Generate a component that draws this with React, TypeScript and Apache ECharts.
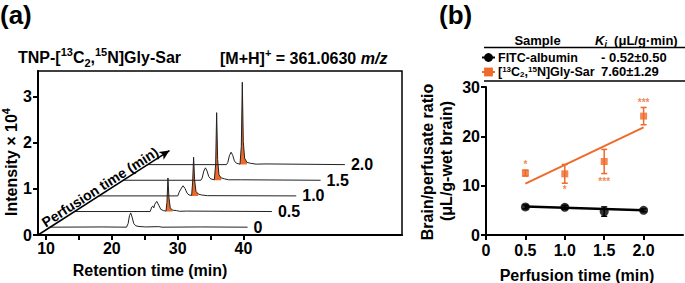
import React, { useEffect, useRef } from 'react';
import * as echarts from 'echarts';

const FONT = "'Liberation Sans', Arial, sans-serif";
const ORANGE = '#EE6A2B';
const BLACK = '#000';

// ---------- Panel (a): stacked chromatograms ----------
const PERFUSION_LABELS = ['0', '0.5', '1.0', '1.5', '2.0'];
const RT_TICKS = [10, 15, 20, 25, 30, 35, 40];
const RT_TICK_LABELS = [10, 20, 30, 40];
const INTENSITY_TICKS = [0, 1, 2, 3];

// [retention time (min), intensity x10^4]
const TRACE_0 = [[10, 0], [18, 0.005], [21.6, 0], [21.85, 0.08], [22.05, 0.25], [22.24, 0.31], [22.45, 0.22], [22.7, 0.08], [23.0, 0.03], [23.5, 0.015], [24.5, 0.005], [26.5, 0.012], [27, 0], [33, 0.005], [40, 0]];
const TRACE_05 = [[10, 0], [21.5, 0], [21.75, 0.1], [21.9, 0.12], [22.05, 0.08], [22.2, 0.16], [22.5, 0.22], [22.8, 0.14], [23.1, 0.05], [23.5, 0.02], [23.9, 0.01], [24.05, 0.2], [24.2, 0.73], [24.35, 0.3], [24.55, 0.08], [24.9, 0.03], [25.5, 0.02], [26, 0.005], [27, 0.01], [40, 0]];
const TRACE_10 = [[10, 0], [22.0, 0], [22.2, 0.08], [22.4, 0.13], [22.55, 0.17], [22.8, 0.22], [23.1, 0.16], [23.4, 0.06], [23.7, 0.02], [24.1, 0.01], [24.25, 0.3], [24.4, 0.84], [24.55, 0.35], [24.75, 0.1], [25.1, 0.04], [25.6, 0.02], [26.5, 0.005], [40, 0]];
const TRACE_15 = [[10, 0], [21.8, 0], [22.0, 0.05], [22.25, 0.2], [22.5, 0.27], [22.75, 0.2], [23.0, 0.08], [23.3, 0.03], [23.85, 0.01], [24.05, 0.35], [24.2, 1.47], [24.35, 0.45], [24.55, 0.12], [24.9, 0.05], [25.4, 0.03], [26, 0.01], [28, 0.01], [40, 0]];
const TRACE_20 = [[10, 0], [22.0, 0], [22.2, 0.05], [22.45, 0.2], [22.7, 0.27], [22.95, 0.2], [23.2, 0.08], [23.5, 0.03], [24.05, 0.01], [24.25, 0.4], [24.4, 1.79], [24.55, 0.5], [24.75, 0.14], [25.1, 0.05], [25.6, 0.03], [26.5, 0.01], [28, 0.015], [40, 0]];
const TRACES = [TRACE_0, TRACE_05, TRACE_10, TRACE_15, TRACE_20];
// retention-time window of the labelled (orange) peak in each trace
const LABEL_PEAK_WINDOWS: (number[] | null)[] = [null, [23.9, 24.9], [24.1, 25.1], [23.85, 24.9], [24.05, 25.1]];

// ---------- Panel (b): brain / perfusate ratio ----------
const PERF_TIMES = [0.5, 1.0, 1.5, 2.0];
const FITC_MEAN = [5.7, 5.6, 4.75, 5.0];
const FITC_SD = [0.4, 0.4, 0.95, 0.3];
const GLYSAR_MEAN = [12.55, 12.4, 14.9, 24.1];
const GLYSAR_SD = [0.6, 1.9, 2.45, 1.75];
const FIT_TIMES = [0.5, 2.0];
const FITC_FIT = [5.8, 5.02];
const GLYSAR_FIT = [10.4, 21.8];
const SIG_LABELS = ['*', '*', '***', '***'];
const SIG_POS = [14.2, 9.2, 10.9, 26.8];
const KI_MEAN = [-0.52, 7.6];
const KI_SD = [0.5, 1.29];
const X_TICKS_B = [0, 0.5, 1.0, 1.5, 2.0];

// waterfall geometry
const RT_MIN = 8.78;
const RT_MAX = 64.1;
const INT_MAX = 3.565;
const STEP_RT = 3.7;
const STEP_INT = 0.34;
const place = (k: number, t: number, v: number) => [RT_MIN + (k + 0.5) * STEP_RT + (t - 10), (k + 0.5) * STEP_INT + v];

const bold = (size: number) => ({ fontFamily: FONT, fontWeight: 'bold' as const, fontSize: size, color: BLACK });

function buildOption(): any {
  const series: any[] = [];

  TRACES.forEach((tr, k) => {
    const win = LABEL_PEAK_WINDOWS[k];
    if (win) {
      series.push({
        type: 'line', xAxisIndex: 0, yAxisIndex: 0, z: 2, silent: true,
        symbol: 'none', smooth: false,
        data: tr.filter((p) => p[0] >= win[0] && p[0] <= win[1]).map((p) => place(k, p[0], p[1])),
        lineStyle: { width: 0 },
        areaStyle: { color: ORANGE, opacity: 1, origin: (k + 0.5) * STEP_INT },
      });
    }
    series.push({
      type: 'line', xAxisIndex: 0, yAxisIndex: 0, z: 3, silent: true,
      symbol: 'none',
      data: tr.map((p) => place(k, p[0], p[1])),
      lineStyle: { color: '#222', width: 1 },
      endLabel: {
        show: true, distance: 6, formatter: () => PERFUSION_LABELS[k],
        ...bold(16),
      },
    });
  });

  // diagonal perfusion-time arrow
  series.push({
    type: 'line', xAxisIndex: 0, yAxisIndex: 0, z: 4, silent: true,
    symbol: 'none', showSymbol: true,
    lineStyle: { color: BLACK, width: 1.5 },
    itemStyle: { color: BLACK },
    data: [
      { value: [RT_MIN, 0], symbol: 'none' },
      { value: [RT_MIN + 5.4 * STEP_RT, 5.4 * STEP_INT], symbol: 'arrow', symbolSize: [7, 10], symbolRotate: -57.3 },
    ],
  });

  // panel b
  series.push({
    name: 'FITC-albumin', type: 'line', xAxisIndex: 1, yAxisIndex: 1, z: 3,
    symbol: 'circle', showSymbol: false, color: BLACK,
    lineStyle: { color: BLACK, width: 2.5 },
    data: FIT_TIMES.map((t, i) => [t, FITC_FIT[i]]),
  });
  series.push({
    name: 'GlySar', type: 'line', xAxisIndex: 1, yAxisIndex: 1, z: 3,
    symbol: 'rect', showSymbol: false, color: ORANGE,
    lineStyle: { color: ORANGE, width: 2 },
    data: FIT_TIMES.map((t, i) => [t, GLYSAR_FIT[i]]),
  });

  const errBar = (color: string, width: number) => (params: any, api: any) => {
    const x = api.value(0);
    const lo = api.coord([x, api.value(1)]);
    const hi = api.coord([x, api.value(2)]);
    const cw = 3;
    return {
      type: 'group',
      children: [
        { type: 'line', shape: { x1: lo[0], y1: lo[1], x2: hi[0], y2: hi[1] }, style: { stroke: color, lineWidth: width } },
        { type: 'line', shape: { x1: lo[0] - cw, y1: lo[1], x2: lo[0] + cw, y2: lo[1] }, style: { stroke: color, lineWidth: width } },
        { type: 'line', shape: { x1: hi[0] - cw, y1: hi[1], x2: hi[0] + cw, y2: hi[1] }, style: { stroke: color, lineWidth: width } },
      ],
    };
  };
  series.push({
    type: 'custom', xAxisIndex: 1, yAxisIndex: 1, z: 4, silent: true,
    renderItem: errBar(BLACK, 1.5),
    encode: { x: 0, y: [1, 2] },
    data: PERF_TIMES.map((t, i) => [t, FITC_MEAN[i] - FITC_SD[i], FITC_MEAN[i] + FITC_SD[i]]),
  });
  series.push({
    type: 'custom', xAxisIndex: 1, yAxisIndex: 1, z: 4, silent: true,
    renderItem: errBar(ORANGE, 1.5),
    encode: { x: 0, y: [1, 2] },
    data: PERF_TIMES.map((t, i) => [t, GLYSAR_MEAN[i] - GLYSAR_SD[i], GLYSAR_MEAN[i] + GLYSAR_SD[i]]),
  });
  series.push({
    name: 'FITC-albumin points', type: 'scatter', xAxisIndex: 1, yAxisIndex: 1, z: 5, silent: true,
    symbol: 'circle', symbolSize: 9, itemStyle: { color: BLACK },
    data: PERF_TIMES.map((t, i) => [t, FITC_MEAN[i]]),
  });
  series.push({
    name: 'GlySar points', type: 'scatter', xAxisIndex: 1, yAxisIndex: 1, z: 5, silent: true,
    symbol: 'rect', symbolSize: 7, itemStyle: { color: ORANGE },
    data: PERF_TIMES.map((t, i) => [t, GLYSAR_MEAN[i]]),
  });
  series.push({
    name: 'significance', type: 'scatter', xAxisIndex: 1, yAxisIndex: 1, z: 6, silent: true,
    symbol: 'circle', symbolSize: 2, itemStyle: { color: 'transparent' },
    data: PERF_TIMES.map((t, i) => [t, SIG_POS[i]]),
    label: {
      show: true, position: 'inside',
      formatter: (p: any) => SIG_LABELS[p.dataIndex],
      fontFamily: FONT, fontWeight: 'bold', fontSize: 10, color: ORANGE,
    },
  });

  const supStyle = (size: number, lh: number) => ({ fontFamily: FONT, fontWeight: 'bold', fontSize: size, lineHeight: lh, verticalAlign: 'top', fill: BLACK, color: BLACK });
  const subStyle = (size: number, lh: number) => ({ fontFamily: FONT, fontWeight: 'bold', fontSize: size, lineHeight: lh, verticalAlign: 'bottom', fill: BLACK, color: BLACK });

  const t = (x: number, y: number, text: string, size: number, extra: any = {}) => ({
    type: 'text', x, y, silent: true,
    style: {
      text, fontFamily: FONT, fontWeight: 'bold', fontSize: size, fill: BLACK,
      align: 'center', verticalAlign: 'middle', ...extra.style,
    },
    ...(extra.el || {}),
  });

  const kiText = (i: number) => {
    const m = KI_MEAN[i];
    const s = m < 0 ? `- ${Math.abs(m).toFixed(2)}` : m.toFixed(2);
    return `${s}±${KI_SD[i].toFixed(2)}`;
  };

  const titleRich = {
    sup: supStyle(11, 12),
    sub: subStyle(11, 12),
    it: { fontFamily: FONT, fontWeight: 'bold', fontStyle: 'italic', fontSize: 16, lineHeight: 22, fill: BLACK },
  };

  const graphic: any[] = [
    t(0, 15, '(a)', 26, { style: { align: 'left' } }),
    t(439, 15, '(b)', 26, { style: { align: 'left' } }),
    t(18, 57, 'TNP-[{sup|13}C{sub|2},{sup|15}N]Gly-Sar', 16, { style: { align: 'left', lineHeight: 22, rich: titleRich } }),
    t(220, 58, '[M+H]{sup|+} = 361.0630 {it|m/z}', 16, { style: { align: 'left', lineHeight: 22, rich: titleRich } }),
    t(11, 162, 'Intensity × 10{sup|4}', 16, { style: { lineHeight: 22, rich: titleRich }, el: { rotation: Math.PI / 2 } }),
    t(150, 270, 'Retention time (min)', 16),
    t(100, 187, 'Perfusion time (min)', 14, { el: { rotation: 0.571 } }),
    t(427, 162, 'Brain/perfusate ratio', 16, { el: { rotation: Math.PI / 2 } }),
    t(446, 161, '(μL/g-wet brain)', 16, { el: { rotation: Math.PI / 2 } }),
    t(577, 275, 'Perfusion time (min)', 16),
    // table
    t(537.5, 40, 'Sample', 13),
    t(595, 40, '{k|K}{i|i}  (μL/g·min)', 13, {
      style: {
        align: 'left', lineHeight: 16,
        rich: {
          k: { fontFamily: FONT, fontWeight: 'bold', fontStyle: 'italic', fontSize: 13, lineHeight: 16, fill: BLACK },
          i: { fontFamily: FONT, fontWeight: 'bold', fontStyle: 'italic', fontSize: 9, lineHeight: 10, verticalAlign: 'bottom', fill: BLACK },
        },
      },
    }),
    t(601, 57, kiText(0), 13, { style: { align: 'left' } }),
    t(601, 71, kiText(1), 13, { style: { align: 'left' } }),
    { type: 'line', silent: true, shape: { x1: 484, y1: 47.5, x2: 685, y2: 47.5 }, style: { stroke: BLACK, lineWidth: 1.3 } },
    { type: 'line', silent: true, shape: { x1: 484, y1: 81, x2: 685, y2: 81 }, style: { stroke: BLACK, lineWidth: 1.3 } },
  ];

  const axisCommon = {
    splitLine: { show: false },
    axisLine: { show: true, onZero: false, lineStyle: { color: BLACK, width: 2 } },
    axisTick: { show: true, length: 5, lineStyle: { color: BLACK, width: 2 } },
  };

  return {
    animation: false,
    textStyle: { fontFamily: FONT },
    grid: [
      { left: 38, top: 71, width: 364, height: 164, show: true, borderColor: BLACK, borderWidth: 1.5, backgroundColor: 'transparent', outerBoundsMode: 'none' },
      { left: 486, top: 87, width: 197, height: 148, show: false, outerBoundsMode: 'none' },
    ],
    xAxis: [
      {
        type: 'value', gridIndex: 0, min: RT_MIN, max: RT_MAX, ...axisCommon,
        axisTick: { ...axisCommon.axisTick, customValues: RT_TICKS },
        axisLabel: { customValues: RT_TICK_LABELS, margin: 5, ...bold(16) },
      },
      {
        type: 'value', gridIndex: 1, min: 0, max: 2.5, interval: 0.5, ...axisCommon,
        axisTick: { ...axisCommon.axisTick, customValues: X_TICKS_B },
        axisLabel: {
          customValues: X_TICKS_B, margin: 7, ...bold(16),
          formatter: (v: number) => (v === 0 ? '0' : v.toFixed(1)),
        },
      },
    ],
    yAxis: [
      {
        type: 'value', gridIndex: 0, min: 0, max: INT_MAX, ...axisCommon,
        axisTick: { ...axisCommon.axisTick, customValues: INTENSITY_TICKS },
        axisLabel: { customValues: INTENSITY_TICKS, margin: 6, ...bold(16) },
      },
      {
        type: 'value', gridIndex: 1, min: 0, max: 30, interval: 10, ...axisCommon,
        axisLabel: { margin: 6, ...bold(16) },
      },
    ],
    legend: {
      show: true, orient: 'vertical', left: 481, top: 51, padding: 0,
      itemWidth: 13, itemHeight: 11, itemGap: 1.5, selectedMode: false,
      data: ['FITC-albumin', 'GlySar'],
      formatter: (name: string) => (name === 'GlySar' ? '[{sup|13}C{sub|2},{sup|15}N]Gly-Sar' : name),
      textStyle: {
        fontFamily: FONT, fontWeight: 'bold', fontSize: 12.5, color: BLACK, lineHeight: 13, padding: [0, 0, 0, -2],
        rich: {
          sup: { fontFamily: FONT, fontWeight: 'bold', fontSize: 8, lineHeight: 8, verticalAlign: 'top', color: BLACK },
          sub: { fontFamily: FONT, fontWeight: 'bold', fontSize: 8, lineHeight: 8, verticalAlign: 'bottom', color: BLACK },
        },
      },
    },
    graphic,
    series,
  };
}

export default function App() {
  const ref = useRef<HTMLDivElement>(null);
  useEffect(() => {
    document.body.style.margin = '0';
    if (!ref.current) return;
    const chart = echarts.init(ref.current, undefined, { renderer: 'svg' });
    chart.setOption(buildOption());
    return () => chart.dispose();
  }, []);
  return <div ref={ref} style={{ width: 685, height: 283, background: '#fff' }} />;
}
